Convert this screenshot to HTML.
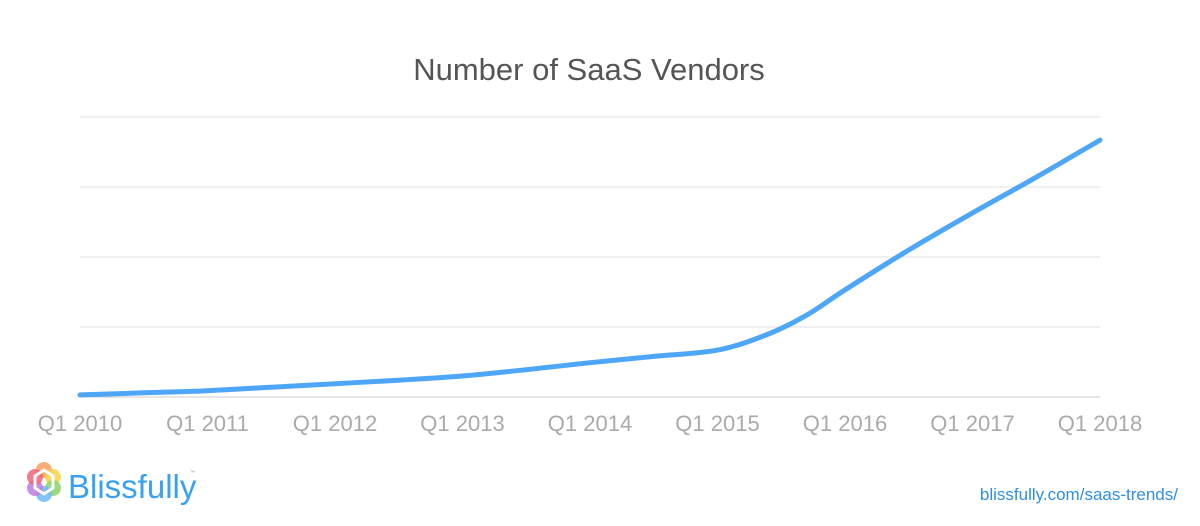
<!DOCTYPE html>
<html><head><meta charset="utf-8"><style>
body{margin:0;background:#fff;width:1200px;height:521px;overflow:hidden;font-family:"Liberation Sans",sans-serif}
</style></head><body>
<svg id="chart" width="1200" height="521" xmlns="http://www.w3.org/2000/svg">
<text x="589" y="80" text-anchor="middle" font-size="31" fill="#555">Number of SaaS Vendors</text>
<g id="grid"></g><g id="xlabels"></g><g id="series"></g>
<g>
<circle cx="44" cy="470" r="8" fill="#f8a15a" opacity=".85"/>
<circle cx="53" cy="477" r="8" fill="#f7d24a" opacity=".85"/>
<circle cx="53" cy="488" r="8" fill="#8bd46b" opacity=".85"/>
<circle cx="44" cy="494" r="8" fill="#6fb8f5" opacity=".85"/>
<circle cx="35" cy="488" r="8" fill="#c07ae0" opacity=".85"/>
<circle cx="35" cy="477" r="8" fill="#f2647a" opacity=".85"/>
<polygon points="44,470 53,476 53,488 44,494 35,488 35,476" fill="none" stroke="#fff" stroke-width="3"/>
<text x="68" y="498" font-size="33" fill="#3aa0f0">Blissfully</text>
<text x="190" y="474" font-size="5" fill="#999">™</text>
</g>
<text x="1178" y="500" text-anchor="end" font-size="17" fill="#2f8fe0">blissfully.com/saas-trends/</text>
</svg>
<script>
const years=["Q1 2010","Q1 2011","Q1 2012","Q1 2013","Q1 2014","Q1 2015","Q1 2016","Q1 2017","Q1 2018"];
const gridTicks=[0,1,2,3,4];
const times=[0,0.5,1,1.5,2,2.5,3,3.5,4,4.5,5,5.4,5.7,6,6.5,7,7.5,8];
const vendors=[0.03,0.06,0.09,0.14,0.19,0.24,0.3,0.39,0.49,0.58,0.67,0.9,1.17,1.53,2.1,2.63,3.14,3.67];
const NS="http://www.w3.org/2000/svg";
const x=t=>80+t*127.5, y=v=>397-v*70;
const g=document.getElementById('grid');
gridTicks.forEach(v=>{const l=document.createElementNS(NS,'line');


l.setAttribute('x1',80);l.setAttribute('x2',1100);l.setAttribute('y1',y(v));l.setAttribute('y2',y(v));
l.setAttribute('stroke',v===0?'#ccc':'#e2e2e2');l.setAttribute('stroke-width',1);g.appendChild(l);});
const xl=document.getElementById('xlabels');
years.forEach((s,i)=>{const t=document.createElementNS(NS,'text');


t.setAttribute('x',x(i));t.setAttribute('y',431);t.setAttribute('text-anchor','middle');
t.setAttribute('font-size','22');t.setAttribute('fill','#aaa');t.textContent=s;xl.appendChild(t);});
const P=times.map((t,i)=>[x(t),y(vendors[i])]);
let d='M'+P[0].join(',');
for(let i=0;i<P.length-1;i++){const p0=P[i-1]||P[i],p1=P[i],p2=P[i+1],p3=P[i+2]||P[i+1];
d+=` C${p1[0]+(p2[0]-p0[0])/6},${p1[1]+(p2[1]-p0[1])/6} ${p2[0]-(p3[0]-p1[0])/6},${p2[1]-(p3[1]-p1[1])/6} ${p2[0]},${p2[1]}`;}
const path=document.createElementNS(NS,'path');


path.setAttribute('d',d);path.setAttribute('fill','none');path.setAttribute('stroke','#4da6f7');
path.setAttribute('stroke-width','5');path.setAttribute('stroke-linecap','round');
document.getElementById('series').appendChild(path);
</script>
</body></html>
